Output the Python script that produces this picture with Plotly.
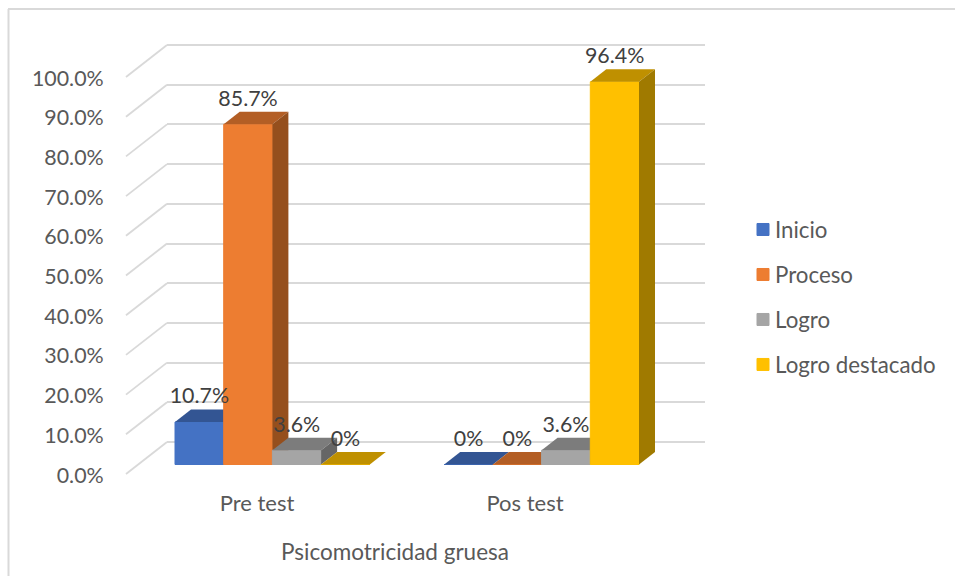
import plotly.graph_objects as go

categories = ["Pre test", "Pos test"]
series_names = ["Inicio", "Proceso", "Logro", "Logro destacado"]
inicio = [10.7, 0]
proceso = [85.7, 0]
logro = [3.6, 3.6]
logro_destacado = [0, 96.4]
value_labels = [["10.7%", "0%"], ["85.7%", "0%"], ["3.6%", "3.6%"], ["0%", "96.4%"]]
axis_ticks = [0, .1, .2, .3, .4, .5, .6, .7, .8, .9, 1]
x_title = "Psicomotricidad gruesa"

front = ["#4472C4", "#ED7D31", "#A5A5A5", "#FFC000"]
top = ["#335593", "#B35E25", "#7C7C7C", "#BF9000"]
side = ["#2A4679", "#954F1D", "#666666", "#A07A00"]

W, H = 955, 576
UX, UY = 269.2, 3.97          # px per category, px per percentage point
X0, Y0 = 272.4, 464.5         # px position of category 0 / value 0 on the bar plane
BAR = 48.7 / UX               # bar width in category units
DX, DY = 16 / UX, 12.5 / UY   # bar depth in axis units
FONT = "Lato, Carlito, sans-serif"
GREY = "#595959"
GRID = "#D9D9D9"
FS = 21.4
PAD = 5 / 397                 # wall axis padding, so the 0 and 100% gridlines are kept


def dom_x(a, b):
    return [a / W, b / W]


def dom_y(a, b):
    return [1 - b / H, 1 - a / H]


def full_axis(**kw):
    return dict(visible=False, fixedrange=True, **kw)


xr = [(0 - X0) / UX, (W - X0) / UX]
yr = [(Y0 - H) / UY, Y0 / UY]

fig = go.Figure()

# carrier traces so that the wall and label axes exist as subplots
fig.add_trace(go.Scatter(x=[0, 1], y=[0, 1], mode="none", showlegend=False, hoverinfo="skip",
                         xaxis="x", yaxis="y"))
fig.add_trace(go.Scatter(x=[0, 1], y=[0, 1], mode="none", showlegend=False, hoverinfo="skip",
                         xaxis="x6", yaxis="y6"))

# side diagonals of the chart wall
dgx, dgy = [], []
for t in axis_ticks:
    v = t * 100
    dgx += [(126 - X0) / UX, (167 - X0) / UX, None]
    dgy += [v + (Y0 - 474) / UY, v + (Y0 - 442) / UY, None]
fig.add_trace(go.Scatter(x=dgx, y=dgy, mode="lines", line=dict(color=GRID, width=1.8),
                         showlegend=False, hoverinfo="skip", xaxis="x2", yaxis="y2"))

all_values = [inicio, proceso, logro, logro_destacado]
for i, values in enumerate(all_values):
    xa, ya = f"x{i + 2}", f"y{i + 2}"
    centers = [c + (i - 1.5) * BAR for c in range(len(categories))]
    fig.add_trace(go.Bar(x=centers, y=values, width=BAR, name=series_names[i],
                         legendgroup=series_names[i],
                         marker=dict(color=front[i], line=dict(color=front[i], width=1)),
                         xaxis=xa, yaxis=ya, hoverinfo="skip"))
    for cx, v in zip(centers, values):
        l, r = cx - BAR / 2, cx + BAR / 2
        fig.add_trace(go.Scatter(x=[l, r, r + DX, l + DX, l], y=[v, v, v + DY, v + DY, v],
                                 fill="toself", fillcolor=top[i], mode="none",
                                 showlegend=False, hoverinfo="skip", xaxis=xa, yaxis=ya))
        if v > 0:
            fig.add_trace(go.Scatter(x=[r, r + DX, r + DX, r, r], y=[0, DY, v + DY, v, 0],
                                     fill="toself", fillcolor=side[i], mode="none",
                                     showlegend=False, hoverinfo="skip", xaxis=xa, yaxis=ya))

# data labels, above everything
lx, ly, lt = [], [], []
for i, values in enumerate(all_values):
    for c, v in enumerate(values):
        lx.append(c + (i - 1.5) * BAR)
        ly.append(v + DY + 11.5 / UY)
        lt.append(value_labels[i][c])
fig.add_trace(go.Scatter(x=lx, y=ly, text=lt, mode="text", textposition="middle center",
                         textfont=dict(family=FONT, size=FS, color="#404040"),
                         showlegend=False, hoverinfo="skip", xaxis="x5", yaxis="y5"))

layout = dict(
    width=W, height=H, margin=dict(l=0, r=0, t=0, b=0, autoexpand=False),
    paper_bgcolor="white", plot_bgcolor="rgba(0,0,0,0)",
    font=dict(family=FONT, size=FS, color=GREY),
    showlegend=True, barmode="overlay",
    legend=dict(x=735 / W, xanchor="left", y=1 - 297 / H, yanchor="middle",
                traceorder="grouped", tracegroupgap=13,
                font=dict(family=FONT, size=22.3, color=GREY), bgcolor="rgba(0,0,0,0)"),
    # back wall with gridlines
    xaxis=dict(domain=dom_x(167, 705), range=[0, 1], showgrid=False, zeroline=False,
               showticklabels=False, showline=False, ticks="", anchor="y", fixedrange=True),
    yaxis=dict(domain=dom_y(40, 447), range=[-PAD, 1 + PAD], tickvals=axis_ticks, showgrid=True,
               gridcolor=GRID, gridwidth=2, zeroline=False, showticklabels=False,
               showline=False, ticks="", anchor="x", fixedrange=True),
    # front plane: visible axis labels
    xaxis6=dict(domain=dom_x(126, 664), range=[-(257 - 126) / 268, (664 - 257) / 268],
                tickvals=[0, 1], ticktext=categories, ticks="outside", ticklen=9,
                tickfont=dict(size=22),
                tickcolor="rgba(0,0,0,0)", showgrid=False, zeroline=False, showline=False,
                anchor="y6", fixedrange=True, automargin=False,
                title=dict(text=x_title, standoff=28, font=dict(size=22.5))),
    yaxis6=dict(domain=dom_y(78, 475), range=[0, 1], tickvals=axis_ticks, tickformat=".1%",
                ticks="outside", ticklen=17, tickcolor="rgba(0,0,0,0)", showgrid=False,
                zeroline=False, showline=False, anchor="x6", fixedrange=True, automargin=False),
    shapes=[
        dict(type="line", xref="paper", yref="paper", x0=8.5 / W, x1=8.5 / W, y0=0, y1=1 - 9 / H,
             line=dict(color=GRID, width=2)),
        dict(type="line", xref="paper", yref="paper", x0=8 / W, x1=1, y0=1 - 9 / H, y1=1 - 9 / H,
             line=dict(color=GRID, width=2)),
    ],
)
for i in range(2, 6):
    kx = dict(domain=[0, 1], range=xr, anchor=f"y{i}")
    ky = dict(domain=[0, 1], range=yr, anchor=f"x{i}")
    if i > 2:
        kx["overlaying"] = "x2"
        ky["overlaying"] = "y2"
    layout[f"xaxis{i}"] = full_axis(**kx)
    layout[f"yaxis{i}"] = full_axis(**ky)

fig.update_layout(**layout)
post = ("document.body.style.margin='0';"
        "document.querySelectorAll('.legendsymbols').forEach("
        "function(g){g.setAttribute('transform','translate(8,0)');});")
fig.write_html("out.html", config=dict(displayModeBar=False), post_script=post)
